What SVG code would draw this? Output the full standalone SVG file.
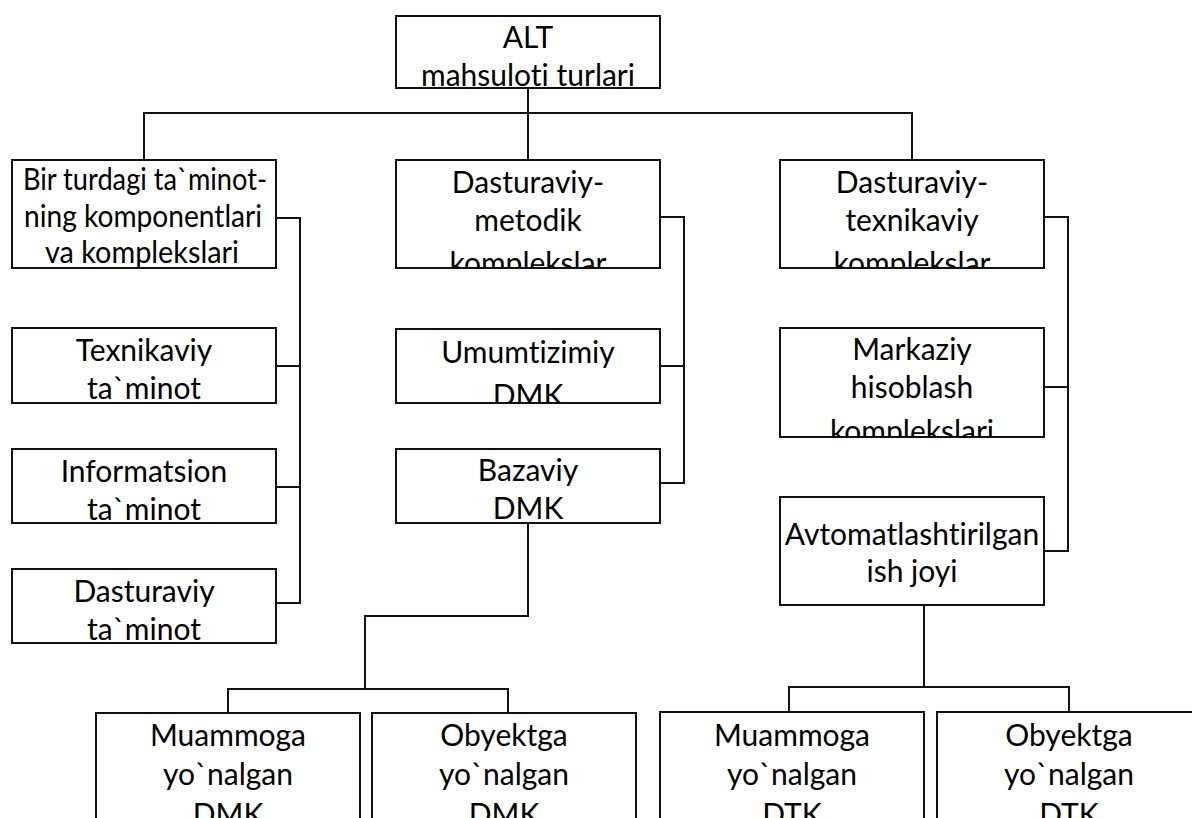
<svg xmlns="http://www.w3.org/2000/svg" width="1192" height="818" viewBox="0 0 1192 818">
<style>
.box{fill:#fff;stroke:#111;stroke-width:2}
.t{font-family:Lato,"Liberation Sans",sans-serif;font-size:30px;fill:#000;text-anchor:middle;font-variant-ligatures:none}
.c{fill:none;stroke:#111;stroke-width:2}
</style>
<rect width="1192" height="818" fill="#fff"/>
<defs>
<clipPath id="cp-top"><rect x="396" y="16" width="264" height="72"/></clipPath>
<clipPath id="cp-dm"><rect x="396" y="160" width="264" height="108"/></clipPath>
<clipPath id="cp-dt"><rect x="780" y="160" width="264" height="108"/></clipPath>
<clipPath id="cp-um"><rect x="396" y="329" width="264" height="74"/></clipPath>
<clipPath id="cp-mk"><rect x="780" y="328" width="264" height="109"/></clipPath>
</defs>
<g id="connectors">
<path class="c" d="M528,88 V160"/>
<path class="c" d="M144,160 V113 H912 V160"/>
<path class="c" d="M276,218 H300 V603 H276 M276,366 H300 M276,487 H300"/>
<path class="c" d="M660,217 H684 V483 H660 M660,366 H684"/>
<path class="c" d="M1044,217 H1068 V551 H1044 M1044,387 H1068"/>
<path class="c" d="M528,523 V616 H365 V688"/>
<path class="c" d="M228,713 V689 H508 V713"/>
<path class="c" d="M924,605 V687 M789,712 V687 H1069 V712"/>
</g>
<g id="n-top">
<rect class="box" x="396" y="16" width="264" height="72"/>
<g clip-path="url(#cp-top)"><text class="t" x="528" y="48">ALT</text><text class="t" x="528" y="86">mahsuloti turlari</text></g>
</g>
<g id="n-bir">
<rect class="box" x="12" y="160" width="264" height="108"/>
<text class="t" x="145" y="190" textLength="244" lengthAdjust="spacingAndGlyphs">Bir turdagi ta`minot-</text>
<text class="t" x="143" y="227" textLength="238" lengthAdjust="spacingAndGlyphs">ning komponentlari</text>
<text class="t" x="142" y="263" textLength="194" lengthAdjust="spacingAndGlyphs">va komplekslari</text>
</g>
<g id="n-dm">
<rect class="box" x="396" y="160" width="264" height="108"/>
<g clip-path="url(#cp-dm)"><text class="t" x="528" y="193">Dasturaviy-</text><text class="t" x="528" y="231">metodik</text><text class="t" x="528" y="274">komplekslar</text></g>
</g>
<g id="n-dt">
<rect class="box" x="780" y="160" width="264" height="108"/>
<g clip-path="url(#cp-dt)"><text class="t" x="912" y="193">Dasturaviy-</text><text class="t" x="912" y="231">texnikaviy</text><text class="t" x="912" y="274">komplekslar</text></g>
</g>
<g id="n-tex">
<rect class="box" x="12" y="328" width="264" height="75"/>
<text class="t" x="144" y="361">Texnikaviy</text>
<text class="t" x="144" y="399">ta`minot</text>
</g>
<g id="n-inf">
<rect class="box" x="12" y="449" width="264" height="74"/>
<text class="t" x="144" y="482">Informatsion</text>
<text class="t" x="144" y="520">ta`minot</text>
</g>
<g id="n-das">
<rect class="box" x="12" y="569" width="264" height="74"/>
<text class="t" x="144" y="602">Dasturaviy</text>
<text class="t" x="144" y="640">ta`minot</text>
</g>
<g id="n-um">
<rect class="box" x="396" y="329" width="264" height="74"/>
<g clip-path="url(#cp-um)"><text class="t" x="528" y="363">Umumtizimiy</text><text class="t" x="528" y="406">DMK</text></g>
</g>
<g id="n-baz">
<rect class="box" x="396" y="449" width="264" height="74"/>
<text class="t" x="528" y="481">Bazaviy</text>
<text class="t" x="528" y="519">DMK</text>
</g>
<g id="n-mk">
<rect class="box" x="780" y="328" width="264" height="109"/>
<g clip-path="url(#cp-mk)"><text class="t" x="912" y="360">Markaziy</text><text class="t" x="912" y="398">hisoblash</text><text class="t" x="912" y="442">komplekslari</text></g>
</g>
<g id="n-aij">
<rect class="box" x="780" y="497" width="264" height="108"/>
<text class="t" x="912" y="545">Avtomatlashtirilgan</text>
<text class="t" x="912" y="582">ish joyi</text>
</g>
<g id="n-mdmk">
<rect class="box" x="96" y="713" width="264" height="130"/>
<text class="t" x="228" y="746">Muammoga</text>
<text class="t" x="228" y="785">yo`nalgan</text>
<text class="t" x="228" y="825">DMK</text>
</g>
<g id="n-odmk">
<rect class="box" x="372" y="713" width="264" height="130"/>
<text class="t" x="504" y="746">Obyektga</text>
<text class="t" x="504" y="785">yo`nalgan</text>
<text class="t" x="504" y="825">DMK</text>
</g>
<g id="n-mdtk">
<rect class="box" x="660" y="712" width="264" height="130"/>
<text class="t" x="792" y="746">Muammoga</text>
<text class="t" x="792" y="785">yo`nalgan</text>
<text class="t" x="792" y="825">DTK</text>
</g>
<g id="n-odtk">
<rect class="box" x="937" y="712" width="264" height="130"/>
<text class="t" x="1069" y="746">Obyektga</text>
<text class="t" x="1069" y="785">yo`nalgan</text>
<text class="t" x="1069" y="825">DTK</text>
</g>
</svg>
